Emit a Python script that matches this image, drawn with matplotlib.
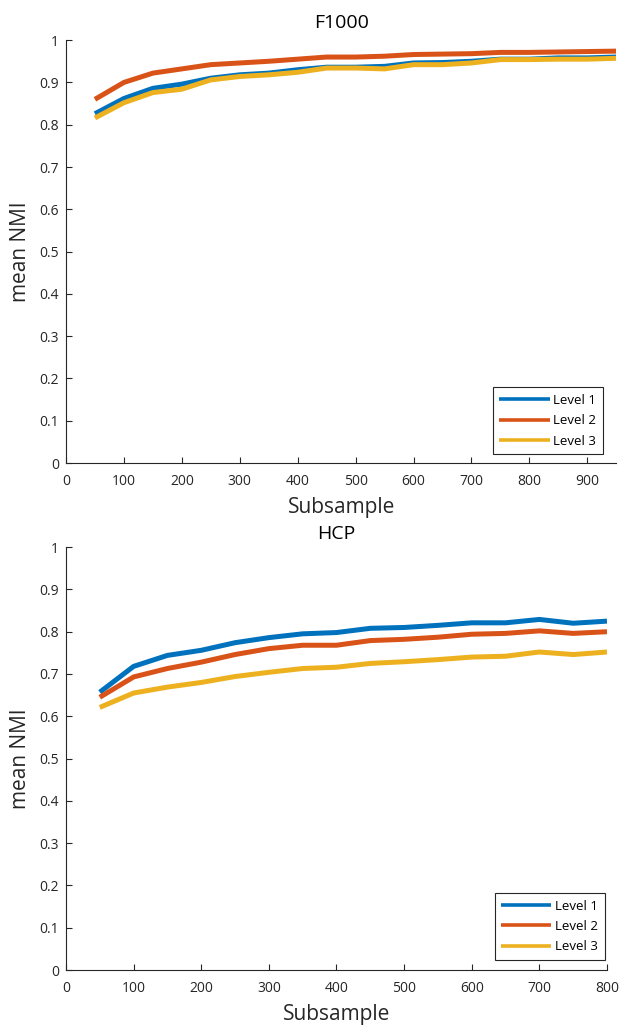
import matplotlib
matplotlib.use('Agg')
import matplotlib.pyplot as plt

plt.rcParams['font.family'] = ['Open Sans', 'DejaVu Sans']

# F1000 subsample sizes and mean NMI per level
f1000_x = [50, 100, 150, 200, 250, 300, 350, 400, 450, 500, 550, 600, 650, 700, 750, 800, 850, 900, 950]
f1000_l1 = [0.826, 0.862, 0.886, 0.896, 0.910, 0.918, 0.922, 0.930, 0.936, 0.936, 0.938, 0.946, 0.947, 0.950, 0.955, 0.955, 0.958, 0.958, 0.960]
f1000_l2 = [0.860, 0.900, 0.922, 0.932, 0.942, 0.946, 0.950, 0.955, 0.960, 0.960, 0.962, 0.966, 0.967, 0.968, 0.971, 0.971, 0.972, 0.973, 0.974]
f1000_l3 = [0.816, 0.852, 0.876, 0.884, 0.906, 0.914, 0.918, 0.924, 0.934, 0.934, 0.932, 0.942, 0.942, 0.946, 0.954, 0.954, 0.955, 0.955, 0.957]

# HCP subsample sizes and mean NMI per level
hcp_x = [50, 100, 150, 200, 250, 300, 350, 400, 450, 500, 550, 600, 650, 700, 750, 800]
hcp_l1 = [0.657, 0.718, 0.744, 0.756, 0.774, 0.786, 0.795, 0.798, 0.808, 0.810, 0.815, 0.821, 0.821, 0.829, 0.820, 0.825]
hcp_l2 = [0.645, 0.693, 0.713, 0.728, 0.746, 0.760, 0.768, 0.768, 0.779, 0.782, 0.787, 0.794, 0.796, 0.802, 0.796, 0.800]
hcp_l3 = [0.621, 0.655, 0.669, 0.680, 0.694, 0.704, 0.713, 0.716, 0.725, 0.729, 0.734, 0.740, 0.742, 0.752, 0.746, 0.752]

levels = ['Level 1', 'Level 2', 'Level 3']
colors = ['#0072bd', '#d95319', '#edb120']
axis_color = '#262626'


def draw_panel(ax, x, series, title, xmax, xticks, title_pad, leg_anchor):
    for y, name, c in zip(series, levels, colors):
        ax.plot(x, y, color=c, lw=3.6, label=name, solid_capstyle='butt')
    ax.set_xlim(0, xmax)
    ax.set_ylim(0, 1)
    ax.set_xticks(xticks)
    ax.set_yticks([i / 10 for i in range(11)])
    ax.set_yticklabels(['0'] + ['%.1f' % (i / 10) for i in range(1, 10)] + ['1'])
    ax.set_title(title, fontsize=14, pad=title_pad)
    ax.set_xlabel('Subsample', fontsize=15, labelpad=6, color=axis_color)
    ax.set_ylabel('mean NMI', fontsize=15, labelpad=6, color=axis_color)
    for s in ['top', 'right']:
        ax.spines[s].set_visible(False)
    for s in ['left', 'bottom']:
        ax.spines[s].set_color(axis_color)
        ax.spines[s].set_linewidth(0.8)
    ax.tick_params(direction='in', length=4, width=0.8, colors=axis_color,
                   labelsize=10, pad=5)
    ax.tick_params(axis='x', pad=8)
    leg = ax.legend(loc='lower right', bbox_to_anchor=leg_anchor, fontsize=9.5,
                    handlelength=3.8, handletextpad=0.3, borderpad=0.5,
                    labelspacing=0.55, fancybox=False, framealpha=1,
                    borderaxespad=0)
    leg.get_frame().set_edgecolor(axis_color)
    leg.get_frame().set_linewidth(0.8)
    for line in leg.get_lines():
        line.set_linewidth(2.6)


fig = plt.figure(figsize=(6.19, 10.29), dpi=100)
ax1 = fig.add_axes([0.1066, 0.550, 0.889, 0.411])
ax2 = fig.add_axes([0.1066, 0.0573, 0.874, 0.411])

draw_panel(ax1, f1000_x, [f1000_l1, f1000_l2, f1000_l3], 'F1000', 950,
           list(range(0, 901, 100)), 9, (0.976, 0.021))
draw_panel(ax2, hcp_x, [hcp_l1, hcp_l2, hcp_l3], 'HCP', 800,
           list(range(0, 801, 100)), 6, (0.996, 0.024))

fig.savefig('out.png', dpi=100)
